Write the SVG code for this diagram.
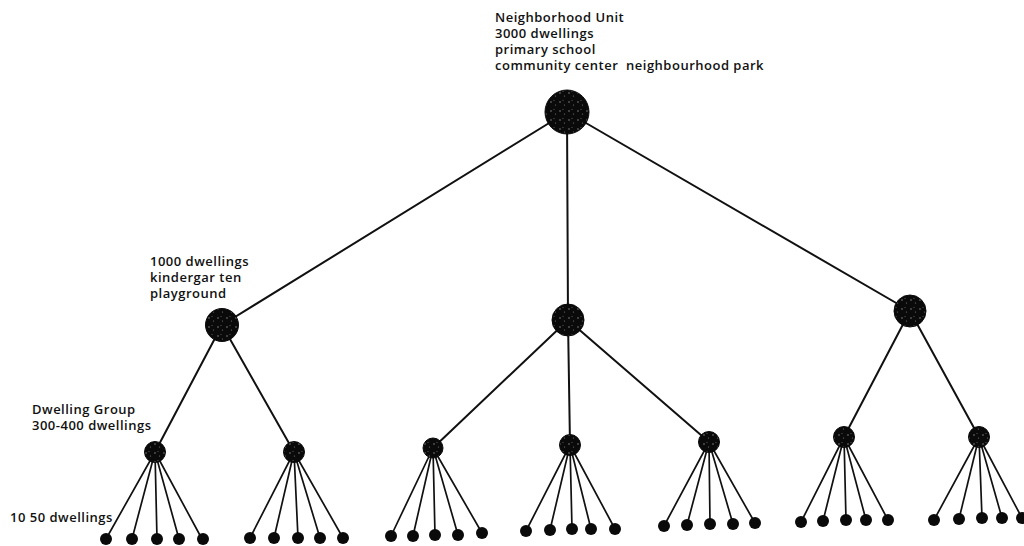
<svg xmlns="http://www.w3.org/2000/svg" width="1024" height="546" viewBox="0 0 1024 546">
  <defs>
    <!-- speckled dark fill used by every node -->
    <pattern id="speckle" width="9" height="9" patternUnits="userSpaceOnUse">
      <rect width="9" height="9" fill="#0a0a0a"/>
      <circle cx="2" cy="3" r="0.7" fill="#9a9a9a"/>
      <circle cx="6.5" cy="6" r="0.6" fill="#777"/>
      <circle cx="5" cy="1.5" r="0.4" fill="#bbb"/>
    </pattern>
  </defs>
  <style>
    .lbl { font-family: "Open Sans", "Liberation Sans", sans-serif; font-size: 13px; font-weight: 600; letter-spacing: 0.5px; fill: #111; }
    .edge { stroke: #111; stroke-width: 2; fill: none; stroke-linecap: round; }
    .twig { stroke: #111; stroke-width: 1.7; fill: none; stroke-linecap: round; }
    .node { fill: url(#speckle); stroke: #0a0a0a; stroke-width: 1; }
    .leaf { fill: #0a0a0a; }
  </style>
  <rect width="1024" height="546" fill="#ffffff"/>

  <!-- connectors -->
  <g id="connectors">
    <!-- neighbourhood unit to 1000-dwelling clusters -->
    <line class="edge" x1="567" y1="112" x2="222" y2="325"/>
    <line class="edge" x1="567" y1="112" x2="568" y2="320"/>
    <line class="edge" x1="567" y1="112" x2="910" y2="311"/>
    <!-- clusters to dwelling groups -->
    <line class="edge" x1="222" y1="325" x2="155" y2="452"/>
    <line class="edge" x1="222" y1="325" x2="294" y2="452"/>
    <line class="edge" x1="568" y1="320" x2="433" y2="448"/>
    <line class="edge" x1="568" y1="320" x2="570" y2="445"/>
    <line class="edge" x1="568" y1="320" x2="709" y2="442"/>
    <line class="edge" x1="910" y1="311" x2="844" y2="437"/>
    <line class="edge" x1="910" y1="311" x2="979" y2="437"/>
    <!-- dwelling groups to 10-50 dwelling clusters -->
    <g class="twig">
      <line x1="155" y1="452" x2="106" y2="539"/>
      <line x1="155" y1="452" x2="132" y2="539"/>
      <line x1="155" y1="452" x2="157" y2="539"/>
      <line x1="155" y1="452" x2="179" y2="539"/>
      <line x1="155" y1="452" x2="202" y2="539"/>

      <line x1="294" y1="452" x2="250" y2="538"/>
      <line x1="294" y1="452" x2="274" y2="538"/>
      <line x1="294" y1="452" x2="298" y2="538"/>
      <line x1="294" y1="452" x2="320" y2="538"/>
      <line x1="294" y1="452" x2="343" y2="538"/>

      <line x1="433" y1="448" x2="391" y2="536"/>
      <line x1="433" y1="448" x2="413" y2="536"/>
      <line x1="433" y1="448" x2="435" y2="535"/>
      <line x1="433" y1="448" x2="458" y2="535"/>
      <line x1="433" y1="448" x2="482" y2="533"/>

      <line x1="570" y1="445" x2="526" y2="531"/>
      <line x1="570" y1="445" x2="550" y2="530"/>
      <line x1="570" y1="445" x2="572" y2="529"/>
      <line x1="570" y1="445" x2="591" y2="529"/>
      <line x1="570" y1="445" x2="615" y2="529"/>

      <line x1="709" y1="442" x2="664" y2="526"/>
      <line x1="709" y1="442" x2="687" y2="525"/>
      <line x1="709" y1="442" x2="710" y2="524"/>
      <line x1="709" y1="442" x2="733" y2="524"/>
      <line x1="709" y1="442" x2="755" y2="523"/>

      <line x1="844" y1="437" x2="801" y2="522"/>
      <line x1="844" y1="437" x2="823" y2="521"/>
      <line x1="844" y1="437" x2="846" y2="520"/>
      <line x1="844" y1="437" x2="866" y2="520"/>
      <line x1="844" y1="437" x2="888" y2="520"/>

      <line x1="979" y1="437" x2="934" y2="520"/>
      <line x1="979" y1="437" x2="959" y2="519"/>
      <line x1="979" y1="437" x2="982" y2="518"/>
      <line x1="979" y1="437" x2="1002" y2="518"/>
      <line x1="979" y1="437" x2="1022" y2="518"/>
    </g>
  </g>

  <!-- neighbourhood unit -->
  <g id="neighbourhood-unit">
    <circle class="node" cx="567" cy="112" r="22"/>
    <text class="lbl" x="495" y="22">Neighborhood Unit</text>
    <text class="lbl" x="495" y="38">3000 dwellings</text>
    <text class="lbl" x="495" y="54">primary school</text>
    <text class="lbl" x="495" y="70" xml:space="preserve">community center  neighbourhood park</text>
  </g>

  <!-- 1000-dwelling clusters -->
  <g id="cluster-left">
    <circle class="node" cx="222" cy="325" r="16.5"/>
    <text class="lbl" x="150" y="266">1000 dwellings</text>
    <text class="lbl" x="150" y="282">kindergar ten</text>
    <text class="lbl" x="150" y="298">playground</text>
  </g>
  <g id="cluster-middle">
    <circle class="node" cx="568" cy="320" r="16"/>
  </g>
  <g id="cluster-right">
    <circle class="node" cx="910" cy="311" r="16"/>
  </g>

  <!-- dwelling groups -->
  <g id="group-1">
    <circle class="node" cx="155" cy="452" r="10.5"/>
    <text class="lbl" x="32" y="414">Dwelling Group</text>
    <text class="lbl" x="32" y="430">300-400 dwellings</text>
  </g>
  <g id="group-2"><circle class="node" cx="294" cy="452" r="10.5"/></g>
  <g id="group-3"><circle class="node" cx="433" cy="448" r="10"/></g>
  <g id="group-4"><circle class="node" cx="570" cy="445" r="10.5"/></g>
  <g id="group-5"><circle class="node" cx="709" cy="442" r="10.5"/></g>
  <g id="group-6"><circle class="node" cx="844" cy="437" r="10.5"/></g>
  <g id="group-7"><circle class="node" cx="979" cy="437" r="10.5"/></g>

  <!-- 10-50 dwelling clusters -->
  <g id="leaves-1">
    <text class="lbl" x="10" y="522">10 50 dwellings</text>
    <circle class="leaf" cx="106" cy="539" r="6"/>
    <circle class="leaf" cx="132" cy="539" r="6"/>
    <circle class="leaf" cx="157" cy="539" r="6"/>
    <circle class="leaf" cx="179" cy="539" r="6"/>
    <circle class="leaf" cx="203" cy="539" r="6"/>
  </g>
  <g id="leaves-2">
    <circle class="leaf" cx="250" cy="538" r="6"/>
    <circle class="leaf" cx="274" cy="538" r="6"/>
    <circle class="leaf" cx="298" cy="538" r="6"/>
    <circle class="leaf" cx="320" cy="538" r="6"/>
    <circle class="leaf" cx="343" cy="538" r="6"/>
  </g>
  <g id="leaves-3">
    <circle class="leaf" cx="391" cy="536" r="6"/>
    <circle class="leaf" cx="413" cy="536" r="6"/>
    <circle class="leaf" cx="435" cy="535" r="6"/>
    <circle class="leaf" cx="458" cy="535" r="6"/>
    <circle class="leaf" cx="482" cy="533" r="6"/>
  </g>
  <g id="leaves-4">
    <circle class="leaf" cx="526" cy="531" r="6"/>
    <circle class="leaf" cx="550" cy="530" r="6"/>
    <circle class="leaf" cx="572" cy="529" r="6"/>
    <circle class="leaf" cx="591" cy="529" r="6"/>
    <circle class="leaf" cx="615" cy="529" r="6"/>
  </g>
  <g id="leaves-5">
    <circle class="leaf" cx="664" cy="526" r="6"/>
    <circle class="leaf" cx="687" cy="525" r="6"/>
    <circle class="leaf" cx="710" cy="524" r="6"/>
    <circle class="leaf" cx="733" cy="524" r="6"/>
    <circle class="leaf" cx="755" cy="523" r="6"/>
  </g>
  <g id="leaves-6">
    <circle class="leaf" cx="801" cy="522" r="6"/>
    <circle class="leaf" cx="823" cy="521" r="6"/>
    <circle class="leaf" cx="846" cy="520" r="6"/>
    <circle class="leaf" cx="866" cy="520" r="6"/>
    <circle class="leaf" cx="888" cy="520" r="6"/>
  </g>
  <g id="leaves-7">
    <circle class="leaf" cx="934" cy="520" r="6"/>
    <circle class="leaf" cx="959" cy="519" r="6"/>
    <circle class="leaf" cx="982" cy="518" r="6"/>
    <circle class="leaf" cx="1002" cy="518" r="6"/>
    <circle class="leaf" cx="1022" cy="518" r="6"/>
  </g>
</svg>
